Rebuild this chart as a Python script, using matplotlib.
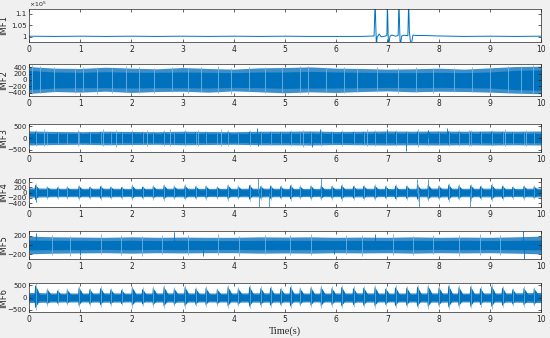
import numpy as np
import matplotlib.pyplot as plt

DARK = '#0072BD'
MID = '#3D8FCC'
LIGHT = '#74B3E0'
INK = '#262626'

# ---- IMF1 (units of 1e5) ----
t1 = [0, 0.5, 1.0, 1.5, 2.0, 2.5, 3.0, 3.5, 4.0, 4.5, 5.0, 5.5, 6.0, 6.5, 6.74,
      6.76, 6.785, 6.80, 6.84, 6.88, 6.95, 6.99, 7.00, 7.02, 7.05, 7.09, 7.16,
      7.21, 7.225, 7.25, 7.28, 7.32, 7.40, 7.415, 7.43, 7.46, 7.50, 7.56, 7.70,
      8.0, 8.5, 9.0, 9.5, 10.0]
v1 = [1.003, 1.002, 1.003, 1.002, 1.003, 1.002, 1.003, 1.002, 1.003, 1.002, 1.003,
      1.002, 1.002, 1.002, 1.004, 1.15, 0.96, 1.0, 1.012, 1.0, 1.003, 1.006, 1.15,
      0.96, 1.003, 1.008, 1.003, 1.006, 1.15, 0.96, 1.004, 1.007, 1.005, 1.15,
      1.02, 0.96, 1.008, 1.006, 1.006, 1.004, 1.002, 1.003, 1.002, 1.003]

# ---- envelopes, sampled every 0.5 s ----
te = np.arange(21) * 0.5
core2_up = [300, 250, 240, 260, 240, 240, 250, 240, 230, 250, 250, 270, 250, 240, 230, 230, 240, 230, 250, 300, 320]
core2_lo = [-300, -250, -240, -240, -250, -240, -240, -250, -230, -240, -260, -250, -250, -240, -230, -240, -230, -240, -250, -300, -320]
out2_up = [420, 370, 360, 400, 370, 350, 390, 360, 340, 380, 390, 410, 370, 360, 340, 350, 370, 340, 380, 420, 430]
out2_lo = [-420, -360, -380, -350, -390, -360, -350, -380, -340, -370, -400, -370, -390, -360, -340, -370, -350, -360, -380, -410, -430]

core3_up = [200, 190, 190, 195, 190, 185, 195, 190, 185, 195, 190, 195, 190, 195, 200, 195, 200, 195, 200, 195, 200]
core3_lo = [-200, -190, -190, -195, -190, -185, -195, -190, -185, -195, -190, -195, -190, -195, -200, -195, -200, -195, -200, -195, -200]
out3_up = [300, 280, 270, 290, 280, 270, 290, 280, 270, 290, 290, 300, 280, 290, 300, 290, 300, 290, 300, 290, 300]
out3_lo = [-300, -280, -270, -290, -280, -270, -290, -280, -270, -290, -290, -300, -280, -290, -300, -290, -300, -290, -300, -290, -300]

core4_up = [120, 110, 110, 110, 105, 110, 110, 105, 110, 110, 110, 105, 110, 110, 105, 110, 115, 110, 110, 105, 115]
core4_lo = [-120, -110, -110, -110, -105, -110, -110, -105, -110, -110, -110, -105, -110, -110, -105, -110, -115, -110, -110, -105, -115]
out4_up = [180, 160, 160, 165, 155, 160, 165, 155, 160, 165, 160, 155, 160, 165, 155, 160, 170, 160, 165, 155, 170]
out4_lo = [-180, -160, -160, -165, -155, -160, -165, -155, -160, -165, -160, -155, -160, -165, -155, -160, -170, -160, -165, -155, -170]

core5_up = [105, 100, 100, 95, 100, 95, 100, 95, 95, 100, 100, 100, 95, 100, 95, 100, 95, 100, 95, 100, 105]
core5_lo = [-105, -100, -100, -95, -100, -95, -100, -95, -95, -100, -100, -100, -95, -100, -95, -100, -95, -100, -95, -100, -105]
out5_up = [190, 175, 170, 165, 175, 165, 170, 165, 165, 175, 170, 175, 165, 170, 165, 175, 165, 170, 165, 175, 190]
out5_lo = [-190, -175, -170, -165, -175, -165, -170, -165, -165, -175, -170, -175, -165, -170, -165, -175, -165, -170, -165, -175, -190]

core6_up = [140, 130, 130, 130, 130, 130, 130, 130, 130, 130, 130, 130, 130, 130, 130, 130, 130, 130, 130, 130, 140]
core6_lo = [-140, -130, -130, -130, -130, -130, -130, -130, -130, -130, -130, -130, -130, -130, -130, -130, -130, -130, -130, -130, -140]
out6_up = [210, 190, 185, 195, 185, 190, 195, 185, 190, 195, 190, 185, 190, 195, 185, 190, 195, 185, 190, 195, 210]
out6_lo = [-210, -190, -185, -195, -185, -190, -195, -185, -190, -195, -190, -185, -190, -195, -185, -190, -195, -185, -190, -195, -210]

# ---- periodic bursts (s) ----
burst_t = [0.12, 0.35, 0.55, 0.74, 0.97, 1.18, 1.39, 1.59, 1.80, 2.01, 2.21, 2.42,
           2.63, 2.83, 3.04, 3.25, 3.45, 3.67, 3.88, 4.08, 4.30, 4.52, 4.71, 4.91,
           5.10, 5.29, 5.50, 5.70, 5.91, 6.10, 6.33, 6.53, 6.75, 6.96, 7.15, 7.37,
           7.58, 7.79, 8.00, 8.19, 8.39, 8.62, 8.81, 9.03, 9.24, 9.44, 9.66, 9.86]
b6_up = [520, 350, 300, 330, 420, 350, 400, 350, 330, 430, 360, 400, 450, 380, 440, 380,
         400, 350, 450, 380, 460, 400, 420, 380, 450, 380, 420, 440, 400, 450, 400, 420,
         440, 380, 440, 420, 460, 480, 420, 500, 440, 460, 400, 480, 420, 350, 400, 380]
b6_lo = [-450, -300, -260, -280, -350, -300, -330, -300, -280, -360, -300, -330, -380, -320, -370, -320,
         -330, -300, -380, -320, -390, -330, -350, -320, -380, -320, -350, -370, -330, -380, -330, -350,
         -370, -320, -370, -350, -390, -400, -350, -420, -370, -390, -330, -400, -350, -300, -330, -320]
b4_up = [300, 220, 200, 210, 260, 220, 250, 220, 210, 270, 230, 250, 280, 240, 270, 240,
         250, 220, 280, 240, 290, 250, 260, 240, 280, 240, 260, 270, 250, 280, 250, 260,
         270, 240, 270, 260, 290, 300, 260, 310, 270, 290, 250, 300, 260, 220, 250, 240]
b4_lo = [-300, -220, -200, -210, -250, -220, -240, -220, -210, -260, -220, -240, -270, -230, -260, -230,
         -240, -210, -270, -230, -280, -240, -250, -230, -270, -230, -250, -260, -240, -270, -240, -250,
         -260, -230, -260, -250, -280, -290, -250, -300, -260, -280, -240, -290, -250, -210, -240, -230]
b3_up = [290, 250, 230, 240, 270, 250, 260, 250, 240, 280, 250, 260, 280, 260, 280, 260,
         270, 250, 280, 260, 290, 270, 270, 260, 280, 260, 270, 280, 270, 280, 270, 270,
         280, 260, 280, 270, 290, 290, 270, 300, 280, 290, 270, 290, 270, 250, 270, 260]

# ---- isolated spikes ----
s3_t = [4.46, 5.68, 7.00, 7.37, 7.80, 8.17, 5.52, 4.48]
s3_v = [450, 400, 380, -550, 360, 420, -380, -330]
s4_t = [4.47, 4.49, 4.69, 5.70, 7.58, 7.62, 7.79, 8.62, 0.13]
s4_v = [550, -550, -550, 550, 520, -550, 520, -550, -360]
s5_t = [0.13, 2.83, 9.64, 9.66, 1.00, 3.40, 6.75, 5.95]
s5_v = [250, 270, 300, -300, -220, -230, 240, -200]

# ---- thin tall strokes at the band edges (fuzz) ----
f2_t = [0.05, 0.22, 0.48, 0.9, 1.05, 1.33, 1.62, 1.9, 2.15, 2.45, 2.8, 3.1, 3.35, 3.7,
        3.95, 4.3, 4.6, 4.95, 5.3, 5.45, 5.8, 6.15, 6.4, 6.8, 7.2, 7.55, 7.9, 8.3,
        8.65, 9.0, 9.35, 9.6, 9.85]
f2_up = [460, 440, 400, 380, 420, 400, 380, 430, 400, 390, 420, 380, 410, 430, 390,
         420, 400, 410, 450, 430, 400, 420, 390, 410, 380, 400, 390, 370, 400, 380, 430, 450, 460]
f2_lo = [-450, -420, -390, -400, -380, -430, -400, -380, -410, -420, -380, -400, -390, -410,
         -430, -380, -400, -420, -410, -440, -390, -400, -380, -390, -400, -380, -410, -390,
         -370, -400, -420, -440, -450]
f3_t = [0.3, 0.95, 1.45, 1.7, 2.3, 2.75, 3.3, 3.75, 5.35, 6.6, 7.6, 8.6, 9.3, 9.7]
f3_up = [380, 340, 400, 350, 360, 380, 350, 370, 360, 390, 380, 360, 370, 350]
f3_lo = [-360, -330, -350, -380, -340, -350, -360, -340, -380, -350, -400, -340, -350, -360]
f5_t = [0.45, 0.8, 1.4, 1.8, 2.2, 2.6, 3.1, 3.7, 4.1, 4.6, 5.1, 5.5, 6.2, 6.5, 7.1,
        7.5, 7.9, 8.4, 8.8, 9.2]
f5_up = [220, 200, 230, 210, 200, 220, 210, 230, 200, 220, 210, 230, 220, 210, 230,
         200, 220, 210, 230, 220]
f5_lo = [-210, -230, -200, -220, -240, -200, -220, -210, -230, -200, -220, -210, -200,
         -230, -210, -220, -200, -230, -210, -220]

fig = plt.figure(figsize=(5.5, 3.38), dpi=100, facecolor='#F0F0F0')
W, H = 550.0, 338.0
boxes = [(9, 42), (64, 96), (124, 152), (178, 207), (231, 259), (283, 312)]
axes = []
for top, bot in boxes:
    ax = fig.add_axes([29 / W, 1 - bot / H, 512 / W, (bot - top) / H])
    axes.append(ax)


def style(ax, name, ylim, yticks, ylabels=None):
    ax.set_xlim(0, 10)
    ax.set_ylim(*ylim)
    ax.set_xticks(range(11))
    ax.set_yticks(yticks)
    if ylabels is not None:
        ax.set_yticklabels(ylabels)
    ax.tick_params(direction='in', top=True, right=True, length=2.5, width=0.5,
                   labelsize=5.5, colors=INK, pad=2)
    ax.tick_params(axis='y', labelsize=5, pad=1.5)
    for sp in ax.spines.values():
        sp.set_color(INK)
        sp.set_linewidth(0.5)
    ax.set_ylabel(name, fontsize=6, color=INK)
    ax.yaxis.set_label_coords(-0.040, 0.5)


def band(ax, core_up, core_lo, out_up, out_lo):
    ax.fill_between(te, out_lo, out_up, color=MID, lw=0)
    ax.fill_between(te, core_lo, core_up, color=DARK, lw=0)


def fuzz(ax, ts, ups, lows):
    ax.vlines(ts, lows, ups, color=LIGHT, lw=0.6)


def bursts(ax, ups, lows):
    for tb, hu, hl in zip(burst_t, ups, lows):
        xs = [tb - 0.015, tb, tb + 0.05, tb + 0.12]
        ax.fill(xs, [0, hu, 0.65 * hu, 0], color=DARK, lw=0)
        ax.fill(xs, [0, hl, 0.65 * hl, 0], color=DARK, lw=0)
        ax.vlines(tb + 0.01, hl * 1.15, hu * 1.15, color=LIGHT, lw=0.5)


# IMF1
ax = axes[0]
ax.plot(t1, v1, color=DARK, lw=0.7)
style(ax, 'IMF1', (0.978, 1.12), [1, 1.05, 1.1], ['1', '1.05', '1.1'])
ax.text(0.0, 1.0, r'$\times10^{5}$', transform=ax.transAxes, fontsize=4.5,
        color=INK, va='bottom')

# IMF2
ax = axes[1]
fuzz(ax, f2_t, f2_up, f2_lo)
band(ax, core2_up, core2_lo, out2_up, out2_lo)
style(ax, 'IMF2', (-500, 500), [-400, -200, 0, 200, 400])

# IMF3
ax = axes[2]
fuzz(ax, f3_t, f3_up, f3_lo)
band(ax, core3_up, core3_lo, out3_up, out3_lo)
bursts(ax, b3_up, [-v for v in b3_up])
ax.vlines(s3_t, 0, s3_v, color=DARK, lw=0.6)
style(ax, 'IMF3', (-600, 600), [-500, 0, 500])

# IMF4
ax = axes[3]
band(ax, core4_up, core4_lo, out4_up, out4_lo)
bursts(ax, b4_up, b4_lo)
ax.vlines(s4_t, 0, s4_v, color=MID, lw=0.6)
style(ax, 'IMF4', (-550, 550), [-400, -200, 0, 200, 400])

# IMF5
ax = axes[4]
fuzz(ax, f5_t, f5_up, f5_lo)
band(ax, core5_up, core5_lo, out5_up, out5_lo)
ax.vlines(s5_t, 0, s5_v, color=DARK, lw=0.6)
style(ax, 'IMF5', (-300, 300), [-200, 0, 200])

# IMF6
ax = axes[5]
band(ax, core6_up, core6_lo, out6_up, out6_lo)
bursts(ax, b6_up, b6_lo)
style(ax, 'IMF6', (-600, 600), [-500, 0, 500])
ax.set_xlabel('Time(s)', fontsize=7.5, family='Liberation Serif', color=INK, labelpad=2)

fig.savefig('out.png', dpi=100, facecolor=fig.get_facecolor())
